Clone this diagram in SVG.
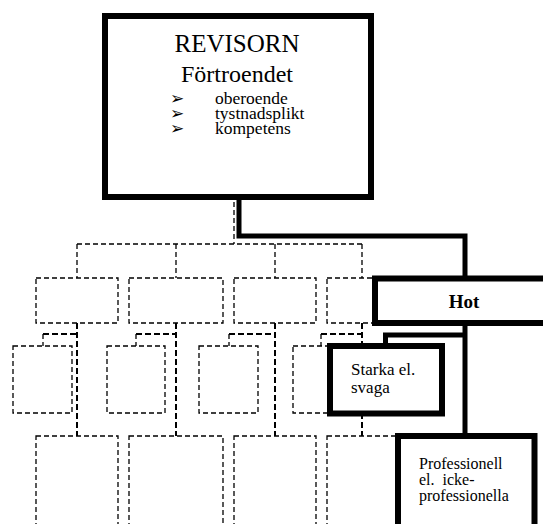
<svg xmlns="http://www.w3.org/2000/svg" width="543" height="524" viewBox="0 0 543 524">
<style>
.d{fill:none;stroke:#000;stroke-width:1.3;stroke-dasharray:5 3}
.dt{fill:none;stroke:#000;stroke-width:2;stroke-dasharray:6 3}
.box{fill:#fff;stroke:#000;stroke-width:6}
.conn{fill:none;stroke:#000;stroke-width:5}
text{font-family:"Liberation Serif","Times New Roman",serif;fill:#000}
.bul{font-family:"DejaVu Sans",sans-serif;font-size:17px}
.it{font-size:17.5px}
</style>
<rect width="543" height="524" fill="#fff"/>
<g id="dashed-tree">
<path class="d" d="M234,202V244M77,244H362M77,244V278M176,244V278M275,244V278M362,244V278"/>
<rect class="d" x="36" y="278" width="82" height="45"/>
<rect class="d" x="129" y="278" width="94" height="45"/>
<rect class="d" x="234" y="278" width="82" height="45"/>
<rect class="d" x="327" y="278" width="70" height="45"/>
<path class="dt" d="M77,323V436M176,323V436M275,323V436M362,323V436"/>
<path class="dt" d="M43,334H77M136,334H176M229,334H275M321,334H362"/>
<path class="d" d="M43,334V346M136,334V346M229,334V346M321,334V346"/>
<rect class="d" x="13" y="346" width="59" height="67"/>
<rect class="d" x="107" y="346" width="58" height="67"/>
<rect class="d" x="199" y="346" width="59" height="67"/>
<rect class="d" x="293" y="346" width="56" height="67"/>
<rect class="d" x="36" y="436" width="82" height="100"/>
<rect class="d" x="129" y="436" width="94" height="100"/>
<rect class="d" x="234" y="436" width="82" height="100"/>
<rect class="d" x="327" y="436" width="82" height="100"/>
</g>
<g id="connectors">
<path class="conn" d="M239,197V236H465V278"/>
<path class="conn" d="M465,323V436"/>
<path class="conn" d="M465,335H385.5V346"/>
</g>
<g id="revisorn">
<rect class="box" x="105" y="16" width="266" height="181"/>
<text x="237" y="52" font-size="25" text-anchor="middle">REVISORN</text>
<text x="237" y="82" font-size="24" text-anchor="middle">Förtroendet</text>
<text class="bul" x="170" y="104">➢</text>
<text class="bul" x="170" y="119">➢</text>
<text class="bul" x="170" y="134">➢</text>
<text class="it" x="215" y="104">oberoende</text>
<text class="it" x="215" y="119">tystnadsplikt</text>
<text class="it" x="215" y="134">kompetens</text>
</g>
<g id="hot">
<rect class="box" x="375" y="278.5" width="175" height="44.5"/>
<text x="464" y="308" font-size="19" font-weight="bold" text-anchor="middle">Hot</text>
</g>
<g id="starka">
<rect class="box" x="330" y="346" width="112" height="67.5"/>
<text x="351" y="375" font-size="17">Starka el.</text>
<text x="351" y="393" font-size="17">svaga</text>
</g>
<g id="professionell">
<rect class="box" x="398" y="436" width="136.5" height="100"/>
<text x="419" y="469" font-size="16">Professionell</text>
<text x="419" y="485" font-size="16" xml:space="preserve">el.  icke-</text>
<text x="419" y="501" font-size="16">professionella</text>
</g>
</svg>
